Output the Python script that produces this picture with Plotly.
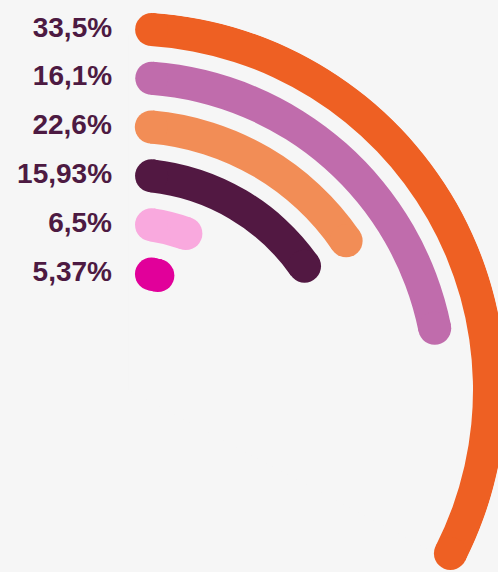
import numpy as np
import plotly.graph_objects as go

# values shown next to each ring, outer ring first
labels = ["33,5%", "16,1%", "22,6%", "15,93%", "6,5%", "5,37%"]
values = [33.5, 16.1, 22.6, 15.93, 6.5, 5.37]
# arc extent of each ring, degrees clockwise from 12 o'clock
arc_start = [3.7, 4.3, 5.0, 6.2, 8.0, 11.3]
arc_end = [116.9, 78.6, 55.6, 54.9, 20.2, 14.5]
colors = ["#EE6023", "#C06CAC", "#F28D56", "#521842", "#F9A9DE", "#E1009A"]

BG = "#F6F6F6"
TEXT = "#4D1A42"
RING_OUTER = 361.2
RING_STEP = 48.6
THICK = 33

# polar centre / radius in pixels (figure is a bit wider than the window,
# the outer ring runs off the right edge like in the original)
W, H = 512, 572
CX, CY, RP = 128.3, 390.0, 378.0
SECTOR = [-28, 90]

n = len(values)
radii = [RING_OUTER - RING_STEP * i for i in range(n)]
start = np.array(arc_start)
end = np.array(arc_end)

fig = go.Figure()

# the arcs themselves
fig.add_trace(go.Barpolar(
    r=[THICK] * n,
    base=[r - THICK / 2 for r in radii],
    theta=(start + end) / 2,
    width=end - start,
    marker=dict(color=colors, line=dict(width=0)),
    hoverinfo="skip",
    showlegend=False,
))

# round caps on both ends
fig.add_trace(go.Scatterpolar(
    r=radii + radii,
    theta=list(start) + list(end),
    mode="markers",
    marker=dict(size=THICK, color=colors + colors, line=dict(width=0)),
    cliponaxis=False,
    hoverinfo="skip",
    showlegend=False,
))

# value labels left of each ring
fig.add_trace(go.Scatterpolar(
    r=radii,
    theta=start,
    mode="markers+text",
    text=labels,
    textposition="middle left",
    textfont=dict(family="Liberation Sans", size=28, color=TEXT, weight=700),
    marker=dict(size=61.6, color="rgba(0,0,0,0)"),
    cliponaxis=False,
    hoverinfo="skip",
    showlegend=False,
))

low = np.sin(np.radians(-SECTOR[0]))
fig.update_layout(
    width=W,
    height=H,
    margin=dict(l=0, r=0, t=0, b=0),
    paper_bgcolor=BG,
    plot_bgcolor=BG,
    polar=dict(
        domain=dict(
            x=[CX / W, (CX + RP) / W],
            y=[1 - (CY + RP * low) / H, 1 - (CY - RP) / H],
        ),
        sector=SECTOR,
        bgcolor=BG,
        barmode="overlay",
        radialaxis=dict(range=[0, RP], visible=False),
        angularaxis=dict(
            rotation=90,
            direction="clockwise",
            showgrid=False,
            showline=False,
            showticklabels=False,
            ticks="",
        ),
    ),
)

fig.write_html(
    "out.html",
    config={"displayModeBar": False},
    post_script="document.body.style.margin='0';document.body.style.overflow='hidden';",
)
